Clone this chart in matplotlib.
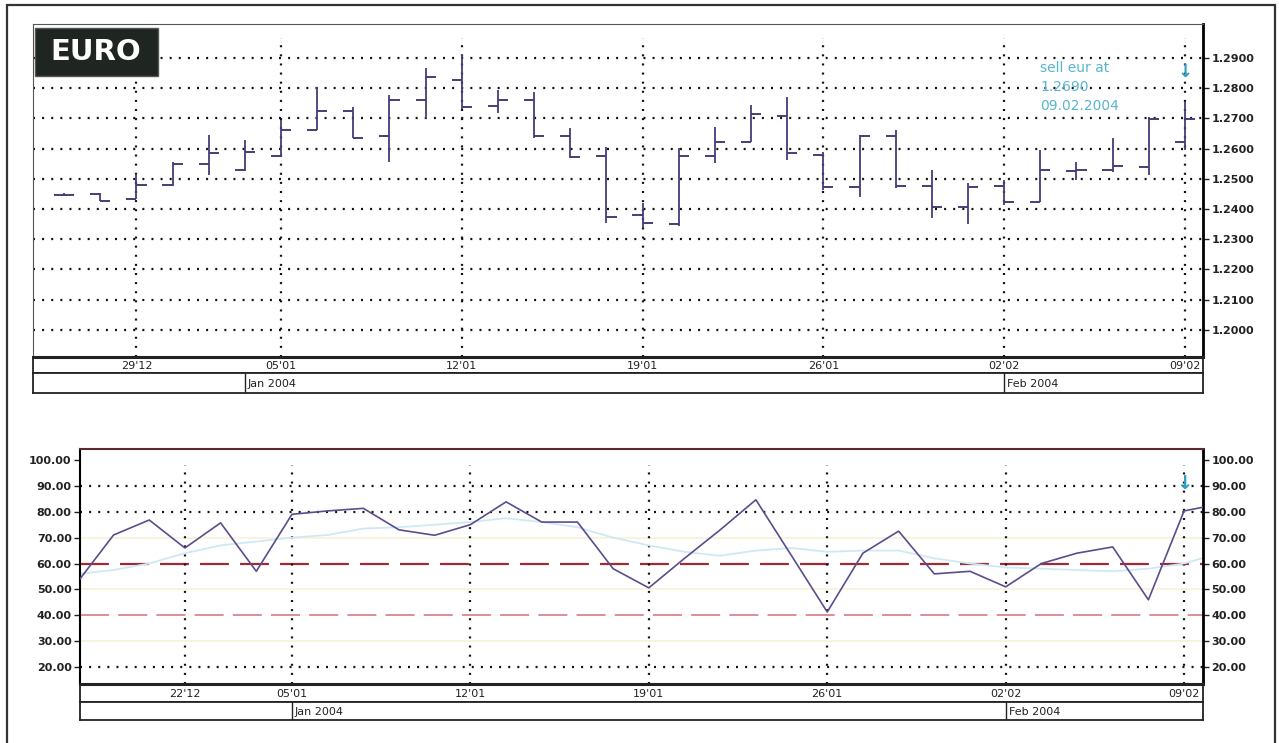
import numpy as np
import matplotlib
matplotlib.use('Agg')
import matplotlib.pyplot as plt
from matplotlib.patches import Rectangle

# EUR/USD daily bars (open, high, low, close), one per trading day
bar_open = [1.2447, 1.2449, 1.2435, 1.2480, 1.2549, 1.2531, 1.2576, 1.2662, 1.2726, 1.2642, 1.2761,
            1.2829, 1.2741, 1.2761, 1.2642, 1.2576, 1.2380, 1.2350, 1.2576, 1.2623, 1.2708,
            1.2579, 1.2472, 1.2642, 1.2476, 1.2406, 1.2476, 1.2424, 1.2525, 1.2531, 1.2540, 1.2623]
bar_high = [1.2452, 1.2453, 1.2513, 1.2557, 1.2645, 1.2629, 1.2695, 1.2805, 1.2739, 1.2777, 1.2866,
            1.2910, 1.2794, 1.2789, 1.2667, 1.2606, 1.2419, 1.2601, 1.2673, 1.2744, 1.2772,
            1.2590, 1.2645, 1.2662, 1.2529, 1.2485, 1.2496, 1.2595, 1.2557, 1.2634, 1.2706, 1.2755]
bar_low = [1.2442, 1.2427, 1.2433, 1.2476, 1.2513, 1.2527, 1.2573, 1.2662, 1.2634, 1.2557, 1.2700,
           1.2733, 1.2717, 1.2634, 1.2568, 1.2353, 1.2336, 1.2344, 1.2551, 1.2623, 1.2562,
           1.2463, 1.2439, 1.2469, 1.2369, 1.2350, 1.2413, 1.2424, 1.2496, 1.2524, 1.2513, 1.2595]
bar_close = [1.2447, 1.2427, 1.2480, 1.2549, 1.2586, 1.2590, 1.2662, 1.2726, 1.2637, 1.2761, 1.2838,
             1.2737, 1.2761, 1.2642, 1.2573, 1.2373, 1.2353, 1.2576, 1.2623, 1.2714, 1.2586,
             1.2472, 1.2642, 1.2476, 1.2406, 1.2472, 1.2424, 1.2531, 1.2531, 1.2542, 1.2697, 1.2697]

# oscillator (lower panel) and its smoothed line
rsi = [53, 71, 76.8, 66, 75.7, 57, 79, 80.3, 81.3, 73, 70.9, 75, 83.8, 76, 76, 58, 50.6, 62, 73,
       84.6, 63, 41.3, 64, 72.5, 56, 57, 51, 60, 64, 66.4, 46, 80.3, 83]
rsi_ma = [56, 57.5, 60, 64, 67, 68.5, 70, 71, 73.5, 74, 75, 76, 77.5, 76, 74, 70, 67, 64.5, 63,
          65, 66, 64.5, 65, 65, 62, 60, 58.5, 58, 57.5, 57, 58, 60, 64]

# date axis labels (day index -> label)
top_date_idx = [2, 6, 11, 16, 21, 26, 31]
top_date_lbl = ["29'12", "05'01", "12'01", "19'01", "26'01", "02'02", "09'02"]
bot_date_idx = [3, 6, 11, 16, 21, 26, 31]
bot_date_lbl = ["22'12", "05'01", "12'01", "19'01", "26'01", "02'02", "09'02"]
top_month_idx = [5, 26]
bot_month_idx = [6, 26]
month_lbl = ['Jan 2004', 'Feb 2004']

price_ticks = [1.20, 1.21, 1.22, 1.23, 1.24, 1.25, 1.26, 1.27, 1.28, 1.29]
osc_ticks = [20, 30, 40, 50, 60, 70, 80, 90, 100]

sell_note = 'sell eur at\n1.2690\n09.02.2004'

W, H = 1279, 743
BAR = '#463c78'
CYAN = '#2f9fbf'
DOT = (0, (0.9, 3.2))


def fig_rect(x0, y0, x1, y1):
    # pixel box (top-left origin) -> figure fraction [l, b, w, h]
    return [x0 / W, 1 - y1 / H, (x1 - x0) / W, (y1 - y0) / H]


def date_band(fig, rect1, rect2, xlim, idx, lbl, m_idx):
    b1 = fig.add_axes(rect1)
    b2 = fig.add_axes(rect2)
    for b in (b1, b2):
        b.set_xlim(xlim)
        b.set_ylim(0, 1)
        b.set_xticks([])
        b.set_yticks([])
        for s in b.spines.values():
            s.set_linewidth(1.3)
            s.set_color('#222222')
    b1.spines['top'].set_linewidth(2.2)
    for i, t in zip(idx, lbl):
        b1.text(i, 0.45, t, ha='center', va='center', fontsize=8, color='#222222')
    for i, t in zip(m_idx, month_lbl):
        b2.axvline(i, color='#222222', lw=1)
        b2.text(i + 0.08, 0.45, t, ha='left', va='center', fontsize=8, color='#222222')


fig = plt.figure(figsize=(W / 100, H / 100), dpi=100)
fig.patch.set_facecolor('white')

# outer frame
fig.add_artist(Rectangle((7 / W, -0.01), (1275 - 7) / W, 1 - 5 / H + 0.01,
                         transform=fig.transFigure, fill=False, lw=1.6, ec='#333333'))

# ---------------- price panel ----------------
top_xlim = (-0.86, 31.5)
ax = fig.add_axes(fig_rect(33, 24, 1203, 357))
ax.set_xlim(top_xlim)
ax.set_ylim(1.1910, 1.3013)
x = np.arange(len(bar_open))
ax.vlines(x, bar_low, bar_high, color=BAR, lw=1.3, zorder=3)
ax.hlines(bar_open, x - 0.28, x, color=BAR, lw=1.4, zorder=3)
ax.hlines(bar_close, x, x + 0.28, color=BAR, lw=1.4, zorder=3)
for p in price_ticks:
    ax.axhline(p, color='#111111', lw=1.6, ls=DOT, zorder=1)
ax.vlines(top_date_idx, 1.1910, 1.2966, color='#111111', lw=1.6, linestyles=[DOT], zorder=1)
ax.set_xticks([])
ax.set_yticks(price_ticks)
ax.set_yticklabels(['%.4f' % p for p in price_ticks], fontsize=8, fontweight='bold')
ax.yaxis.tick_right()
ax.tick_params(axis='y', length=4, width=1, pad=2, colors='#222222')
for s in ['left', 'top']:
    ax.spines[s].set_linewidth(0.8)
    ax.spines[s].set_color('#555555')
ax.spines['right'].set_linewidth(2)
ax.spines['bottom'].set_linewidth(2)

ax.text(31, 1.2854, '\u2193', ha='center', va='center', fontsize=13, fontweight='bold', color=CYAN)
ax.text(27.0, 1.2890, sell_note, ha='left', va='top', fontsize=10, color='#5ab4cf',
        linespacing=1.45)

date_band(fig, fig_rect(33, 357, 1203, 373), fig_rect(33, 373, 1203, 393), top_xlim,
          top_date_idx, top_date_lbl, top_month_idx)

# EURO tag
fig.add_artist(Rectangle((35 / W, 1 - 76 / H), 123 / W, 48 / H, transform=fig.transFigure,
                         fc='#1f2521', ec='#555555', lw=1))
fig.text(96 / W, 1 - 52 / H, 'EURO', ha='center', va='center', fontsize=21,
         fontweight='bold', color='white')

# ---------------- oscillator panel ----------------
bot_xlim = (0.06, 31.53)
ax2 = fig.add_axes(fig_rect(80, 449, 1203, 684))
ax2.set_xlim(bot_xlim)
ax2.set_ylim(13.5, 104.2)
xr = np.arange(len(rsi))
ax2.plot(xr, rsi_ma, color='#cfe9f4', lw=1.3, zorder=2)
ax2.plot(xr, rsi, color='#5b4d8c', lw=1.2, zorder=3)
for v in [90, 80, 20]:
    ax2.axhline(v, color='#111111', lw=1.6, ls=DOT, zorder=1)
for v in [70, 50, 30]:
    ax2.axhline(v, color='#f6f1d6', lw=1.2, zorder=0)
ax2.axhline(60, color='#9e2a36', lw=1.6, ls=(0, (13, 5)), zorder=1)
ax2.axhline(40, color='#d0707c', lw=1.1, ls=(0, (19, 6)), zorder=1)
ax2.vlines(bot_date_idx, 13.5, 98, color='#111111', lw=1.6, linestyles=[DOT], zorder=1)
ax2.text(31, 91, '\u2193', ha='center', va='center', fontsize=14, fontweight='bold', color=CYAN)
ax2.set_xticks([])
ax2.set_yticks(osc_ticks)
ax2.set_yticklabels(['%.2f' % v for v in osc_ticks], fontsize=8, fontweight='bold')
ax2.tick_params(axis='y', left=True, right=True, labelleft=True, labelright=True,
                length=4, width=1, pad=2, colors='#222222')
ax2.spines['left'].set_linewidth(1.5)
ax2.spines['right'].set_linewidth(2)
ax2.spines['top'].set_linewidth(1.5)
ax2.spines['top'].set_color('#5a2a30')
ax2.spines['bottom'].set_linewidth(2)

date_band(fig, fig_rect(80, 684, 1203, 702), fig_rect(80, 702, 1203, 720), bot_xlim,
          bot_date_idx, bot_date_lbl, bot_month_idx)

fig.savefig('out.png', dpi=100, facecolor='white')
